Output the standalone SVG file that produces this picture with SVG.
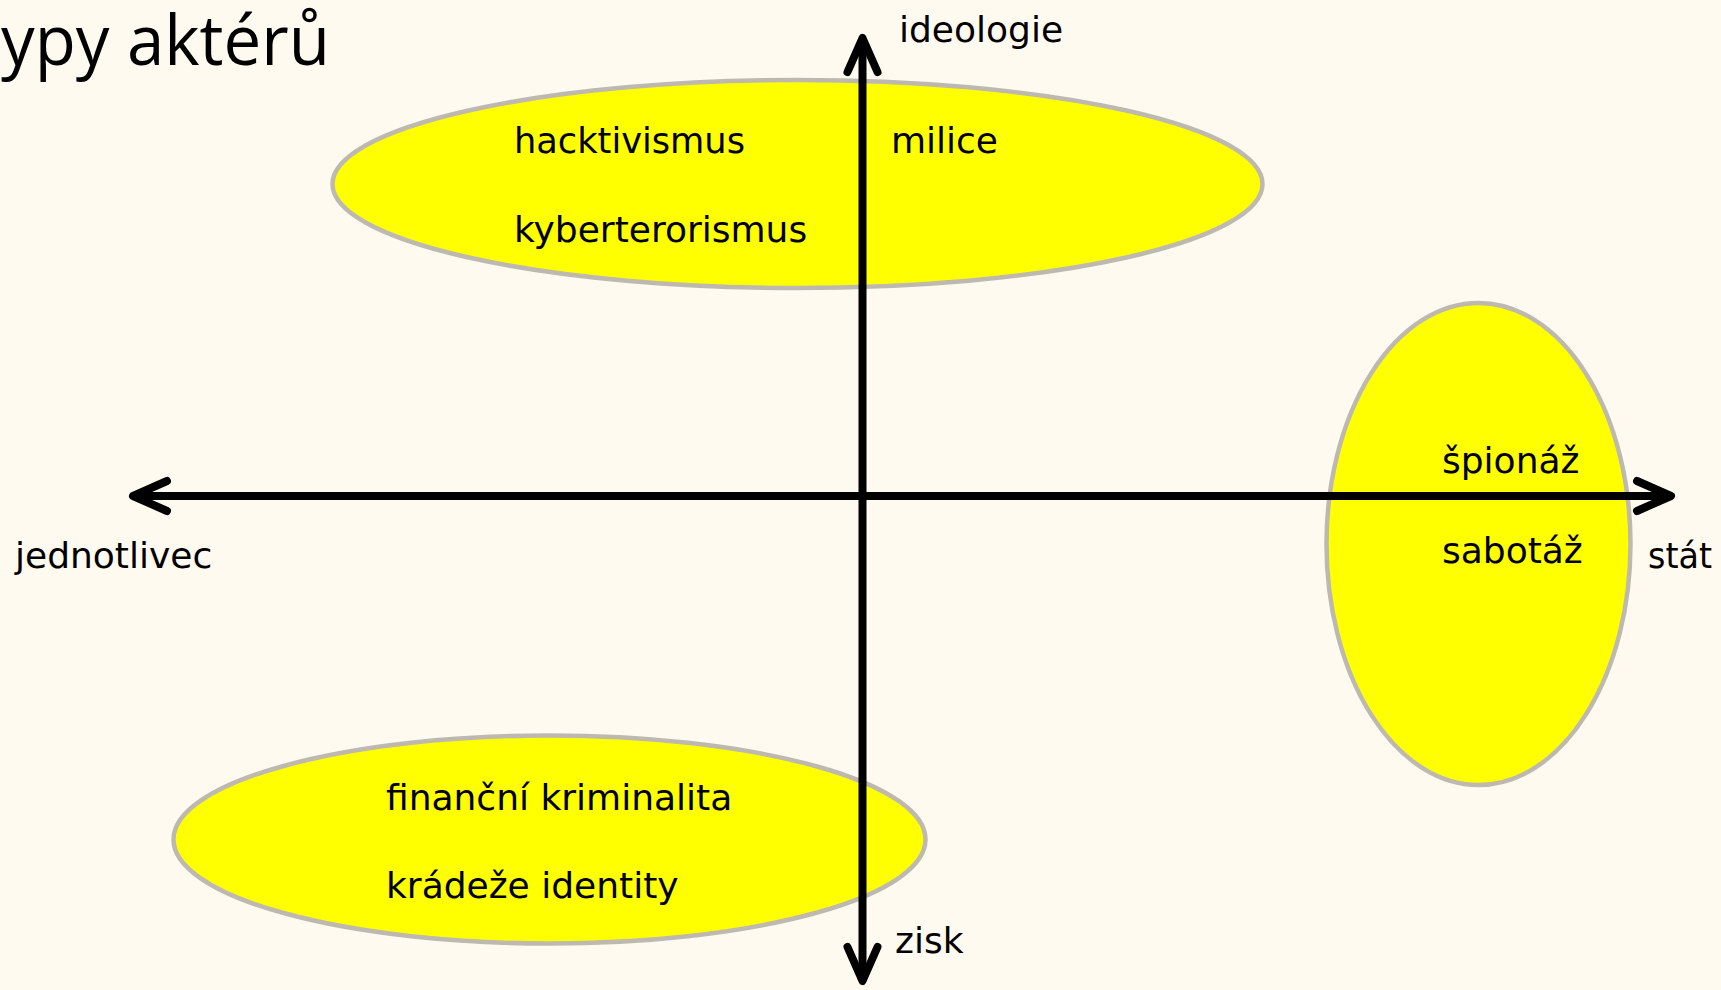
<svg xmlns="http://www.w3.org/2000/svg" width="1721" height="990" viewBox="0 0 1721 990">
  <style>
    .bubble { fill: #ffff00; stroke: #bdb9b0; stroke-width: 4.5; }
    .lbl { font-family: "DejaVu Sans", "Liberation Sans", sans-serif; font-size: 36px; fill: #000; }
    .title { font-family: "Open Sans", "Liberation Sans", sans-serif; font-size: 70px; fill: #000; }
    .axis { stroke: #000; stroke-width: 8; fill: none; }
  </style>
  <defs>
    <marker id="arrow" markerUnits="userSpaceOnUse" markerWidth="60" markerHeight="60" refX="0" refY="0" orient="auto-start-reverse" overflow="visible">
      <path d="M-34,-15 L0,0 L-34,15" fill="none" stroke="#000" stroke-width="8" stroke-linecap="round" stroke-linejoin="round"/>
    </marker>
  </defs>
  <rect x="0" y="0" width="1721" height="990" fill="#fffaf0"/>

  <g id="title">
    <text class="title" x="1" y="65" textLength="329" lengthAdjust="spacingAndGlyphs">ypy aktérů</text>
  </g>

  <g id="node-ideologie">
    <ellipse class="bubble" cx="797.5" cy="184" rx="465" ry="104"/>
  </g>
  <g id="node-stat">
    <ellipse class="bubble" cx="1478.5" cy="544" rx="152" ry="241"/>
  </g>
  <g id="node-zisk">
    <ellipse class="bubble" cx="549.5" cy="839.5" rx="376" ry="104"/>
  </g>

  <g id="connectors">
    <line class="axis" x1="133" y1="496" x2="1671" y2="496" marker-start="url(#arrow)" marker-end="url(#arrow)"/>
    <line class="axis" x1="862.5" y1="38" x2="862.5" y2="981" marker-start="url(#arrow)" marker-end="url(#arrow)"/>
  </g>

  <g id="labels-ideologie">
    <text class="lbl" x="514" y="153" textLength="231" lengthAdjust="spacingAndGlyphs">hacktivismus</text>
    <text class="lbl" x="514" y="242">kyberterorismus</text>
    <text class="lbl" x="891" y="153">milice</text>
  </g>
  <g id="labels-stat">
    <text class="lbl" x="1442" y="473">špionáž</text>
    <text class="lbl" x="1442" y="563">sabotáž</text>
  </g>
  <g id="labels-zisk">
    <text class="lbl" x="386" y="810">finanční kriminalita</text>
    <text class="lbl" x="386" y="898">krádeže identity</text>
  </g>
  <g id="axis-labels">
    <text class="lbl" x="899" y="42">ideologie</text>
    <text class="lbl" x="895" y="953">zisk</text>
    <text class="lbl" x="15" y="568">jednotlivec</text>
    <text class="lbl" x="1648" y="568" textLength="64" lengthAdjust="spacingAndGlyphs">stát</text>
  </g>
</svg>
